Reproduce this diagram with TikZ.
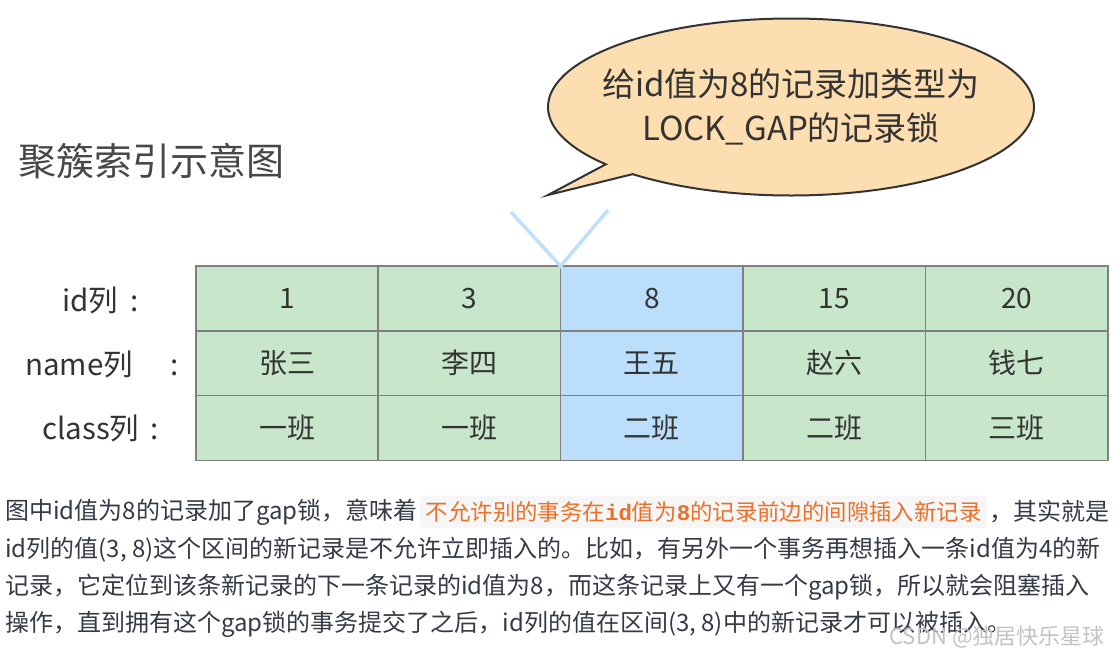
\documentclass[tikz,border=0pt]{standalone}
\usepackage{fontspec}
\setmainfont{Noto Sans CJK SC}
\newfontfamily\codefont{Liberation Mono}
\usetikzlibrary{shapes, shapes.callouts, positioning}
\definecolor{cellgreen}{RGB}{200,230,201}
\definecolor{cellblue}{RGB}{187,222,251}
\definecolor{cellborder}{RGB}{128,128,128}
\definecolor{bubblefill}{RGB}{253,222,176}
\definecolor{textgray}{RGB}{51,51,51}
\definecolor{paratext}{RGB}{52,58,70}
\definecolor{codeorange}{RGB}{236,112,40}
\definecolor{codebg}{RGB}{246,246,246}
\definecolor{markblue}{RGB}{190,224,250}
\definecolor{wmgray}{RGB}{195,195,195}
\newcommand{\cellfont}{\fontsize{28}{32}\selectfont}
\newcommand{\labelfont}{\fontsize{29.5}{32}\selectfont}
\newcommand{\titlefont}{\fontsize{38}{44}\selectfont}
\newcommand{\bubblefont}{\fontsize{33}{44}\selectfont}
\newcommand{\parafont}{\fontsize{24}{28}\selectfont}
\tikzstyle{idxcell} = [rectangle, minimum width=182.4pt, minimum height=64.7pt, inner sep=0pt, outer sep=0pt, draw=cellborder, line width=1.5pt, fill=cellgreen, text=textgray, font=\cellfont]
\tikzstyle{lockcell} = [idxcell, fill=cellblue]
\tikzstyle{rowlabel} = [anchor=west, inner sep=0pt, text=textgray, font=\labelfont]
\tikzstyle{bubble} = [ellipse callout, draw=black!80, line width=2pt, fill=bubblefill, minimum width=486pt, minimum height=177pt, inner xsep=-24pt, inner ysep=0pt, text=textgray, align=center, font=\bubblefont, callout pointer arc=9]
\tikzstyle{lockmark} = [draw=markblue, line width=3.5pt]
\tikzstyle{para} = [anchor=west, inner sep=0pt, text=paratext, font=\parafont]

\begin{document}
\begin{tikzpicture}[x=1pt, y=-1pt]
\useasboundingbox (0,0) rectangle (1118,657);

% title and bubble
\node (title) [anchor=west, inner sep=0pt, text=textgray!90, font=\titlefont] at (18,161) {聚簇索引示意图};
\node (note) [bubble, callout absolute pointer={(548,195)}] at (791,107) {给id值为8的记录加类型为\\LOCK\_GAP的记录锁};

% id row
\node (id1) [idxcell] at (287,298.5) {1};
\node (id3) [idxcell, right=0pt of id1] {3};
\node (id8) [lockcell, right=0pt of id3] {8};
\node (id15) [idxcell, right=0pt of id8] {15};
\node (id20) [idxcell, right=0pt of id15] {20};
% name row
\node (nm1) [idxcell, below=0pt of id1] {张三};
\node (nm3) [idxcell, below=0pt of id3] {李四};
\node (nm8) [lockcell, below=0pt of id8] {王五};
\node (nm15) [idxcell, below=0pt of id15] {赵六};
\node (nm20) [idxcell, below=0pt of id20] {钱七};
% class row
\node (cl1) [idxcell, below=0pt of nm1] {一班};
\node (cl3) [idxcell, below=0pt of nm3] {一班};
\node (cl8) [lockcell, below=0pt of nm8] {二班};
\node (cl15) [idxcell, below=0pt of nm15] {二班};
\node (cl20) [idxcell, below=0pt of nm20] {三班};

\node (lid) [rowlabel] at (62,300) {id列\hspace{12pt}:};
\node (lname) [rowlabel] at (25,364) {name列\hspace{38pt}:};
\node (lclass) [rowlabel] at (42,428) {class列\hspace{11pt}:};

% marker above the locked record
\coordinate (vl) at (511,212);
\coordinate (vr) at (608,210);
\draw[lockmark] (vl) -- (id8.north west) -- (vr);

% text below
\node (p1a) [para] at (5,512) {图中id值为8的记录加了gap锁，意味着};
\node (p1b) [para, right=2pt of p1a, fill=codebg, rounded corners=4pt, inner sep=6pt, text=codeorange, font=\fontsize{22.4}{26}\selectfont] {不允许别的事务在{\codefont\bfseries id}值为{\codefont\bfseries 8}的记录前边的间隙插入新记录};
\node (p1c) [para, right=2pt of p1b] {，其实就是};
\node (p2) [para] at (5,550) {id列的值(3, 8)这个区间的新记录是不允许立即插入的。比如，有另外一个事务再想插入一条id值为4的新};
\node (p3) [para] at (5,587) {记录，它定位到该条新记录的下一条记录的id值为8，而这条记录上又有一个gap锁，所以就会阻塞插入};
\node (p4) [para] at (5,624) {操作，直到拥有这个gap锁的事务提交了之后，id列的值在区间(3, 8)中的新记录才可以被插入。};
\node (mark) [anchor=east, inner sep=0pt, text=wmgray, font=\fontsize{22}{26}\selectfont] at (1105,637) {CSDN @独居快乐星球};
\end{tikzpicture}
\end{document}
